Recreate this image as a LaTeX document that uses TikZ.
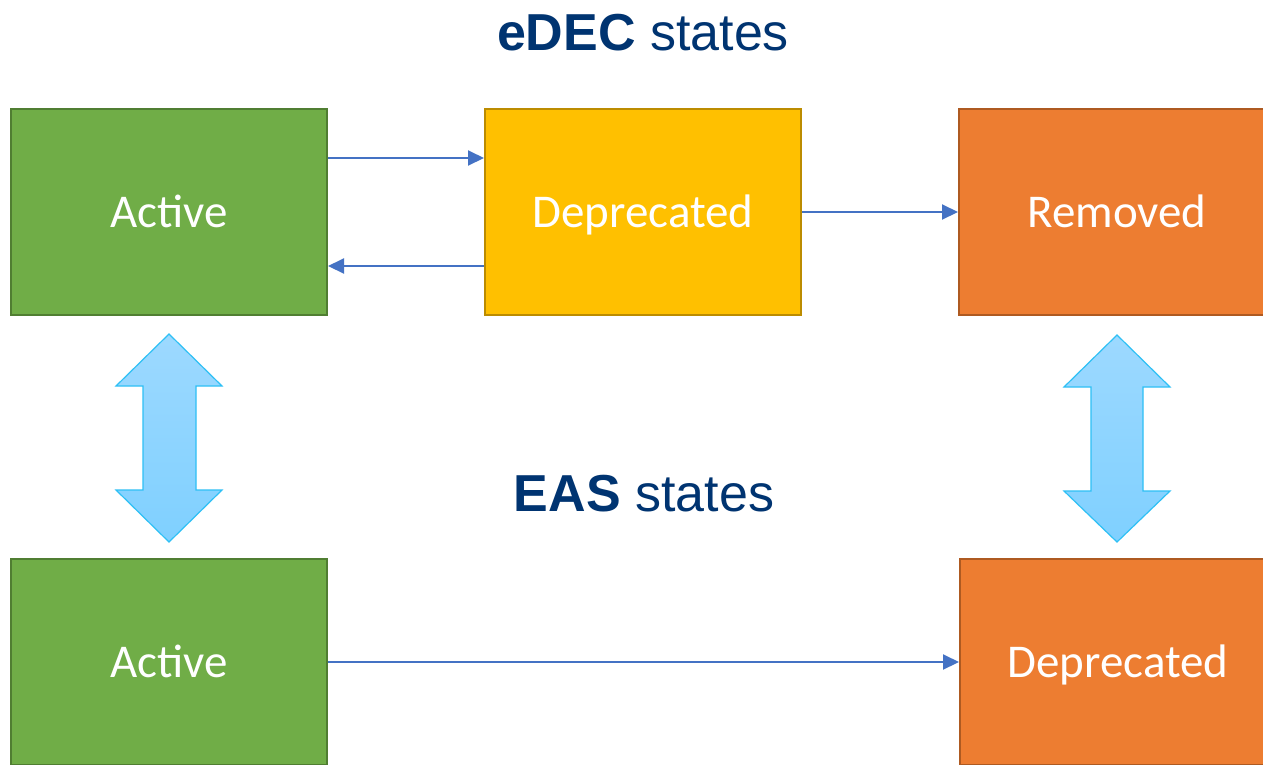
\documentclass[tikz,border=0pt]{standalone}
\usepackage{fontspec}
\setmainfont{Carlito}
\newfontfamily\titlefont{Liberation Sans}
\usetikzlibrary{arrows.meta}
\definecolor{gfill}{HTML}{70AD47}
\definecolor{gdraw}{HTML}{507E32}
\definecolor{yfill}{HTML}{FFC000}
\definecolor{ydraw}{HTML}{BC8C00}
\definecolor{ofill}{HTML}{ED7D31}
\definecolor{odraw}{HTML}{AE5A21}
\definecolor{conncol}{HTML}{4472C4}
\definecolor{titlecol}{HTML}{003471}
\definecolor{dtop}{HTML}{9DD9FF}
\definecolor{dbot}{HTML}{7FD0FF}
\definecolor{ddraw}{HTML}{2EC0F5}
\tikzset{
  statebox/.style={draw, line width=2pt, minimum width=316pt, minimum height=206pt,
    text=white, font=\fontsize{47}{56}\selectfont, inner sep=0pt,
    text height=30pt, text depth=0pt},
  greenbox/.style={statebox, fill=gfill, draw=gdraw},
  yellowbox/.style={statebox, fill=yfill, draw=ydraw},
  orangebox/.style={statebox, fill=ofill, draw=odraw},
  conn/.style={draw=conncol, line width=2pt, -{Triangle[length=16pt,width=15pt]}},
  titletext/.style={text=titlecol, font=\titlefont\fontsize{52}{62}\selectfont, anchor=base},
  dblarrow/.style={draw=ddraw, line width=1.2pt, top color=dtop, bottom color=dbot, line join=miter}
}
\begin{document}
\begin{tikzpicture}[x=1pt,y=-1pt]
\useasboundingbox (0,0) rectangle (1263,764);
\fill[white] (0,0) rectangle (1263,764);
% titles
\node[titletext] (t1) at (643,50) {\textbf{eDEC} states};
\node[titletext] (t2) at (644,511) {\textbf{EAS} states};
% boxes
\node[greenbox] (a1) at (169,212) {Active};
\node[yellowbox] (d1) at (643,212) {Deprecated};
\node[orangebox] (r1) at (1117,212) {Removed};
\node[greenbox] (a2) at (169,662) {Active};
\node[orangebox] (d2) at (1118,662) {Deprecated};
% connectors
\draw[conn] ([yshift=54pt]a1.east) -- ([yshift=54pt]d1.west);
\draw[conn] ([yshift=-54pt]d1.west) -- ([yshift=-54pt]a1.east);
\draw[conn] (d1.east) -- (r1.west);
\draw[conn] (a2.east) -- (d2.west);
% double arrows
\draw[dblarrow] (169,334) -- (222,386) -- (196,386) -- (196,490) -- (222,490) -- (169,542)
  -- (116,490) -- (143,490) -- (143,386) -- (116,386) -- cycle;
\draw[dblarrow] (1117,335) -- (1170,387) -- (1143,387) -- (1143,491) -- (1170,491) -- (1117,542)
  -- (1064,491) -- (1091,491) -- (1091,387) -- (1064,387) -- cycle;
\end{tikzpicture}
\end{document}
